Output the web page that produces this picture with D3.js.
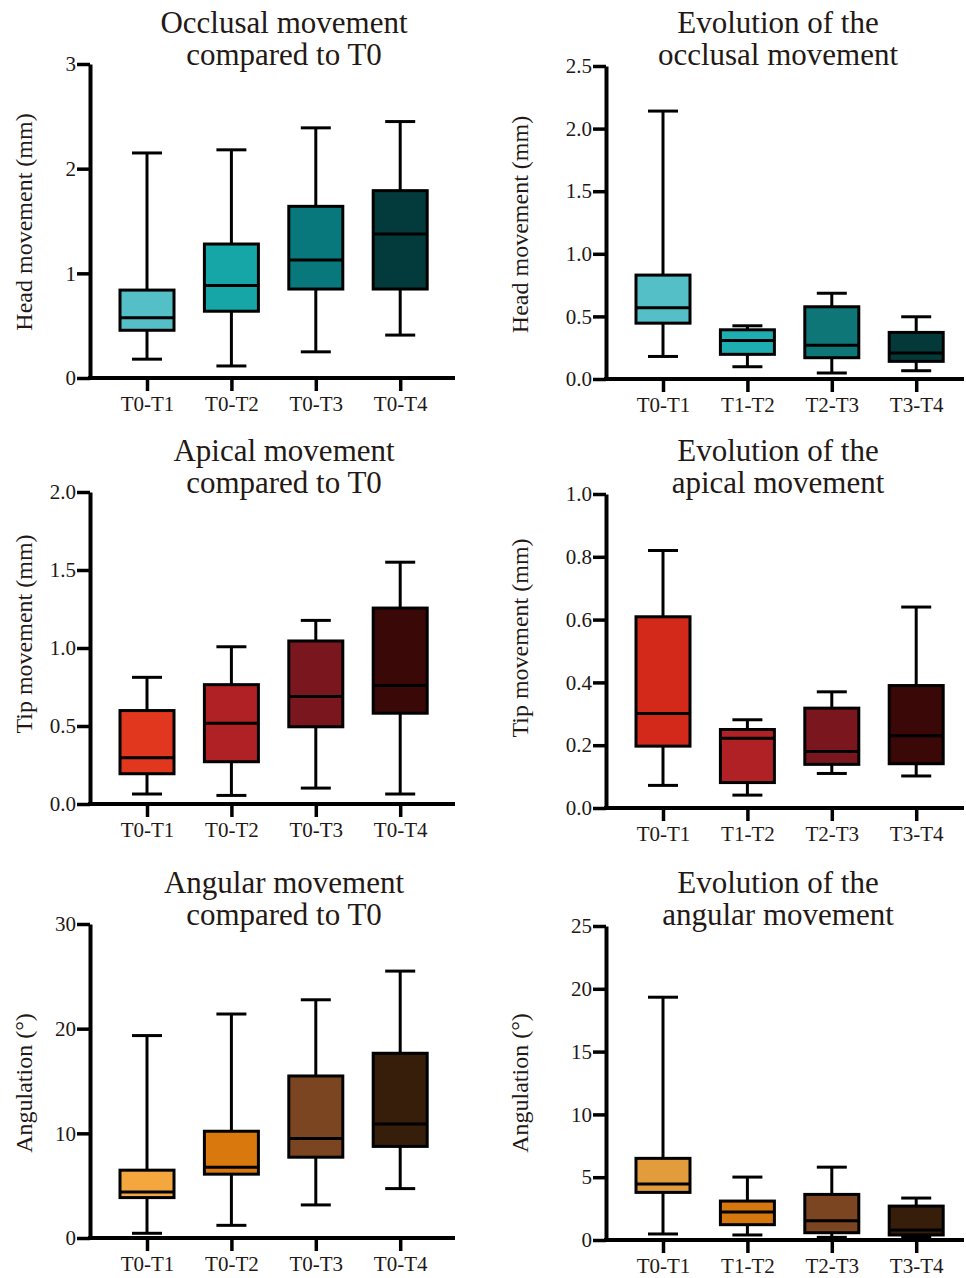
<!DOCTYPE html>
<html><head><meta charset="utf-8">
<script src="https://cdn.jsdelivr.net/npm/d3@7"></script>
<style>body{margin:0;background:#fff} svg{display:block}</style>
</head><body>
<svg id="c" width="966" height="1278"></svg>
<script>
// ---------- DATA ----------
const categoriesCompared = ["T0-T1", "T0-T2", "T0-T3", "T0-T4"];
const categoriesEvolution = ["T0-T1", "T1-T2", "T2-T3", "T3-T4"];

// each entry: [min, q1, median, q3, max]
const occlusalCompared = [
  [0.18, 0.456, 0.575, 0.84, 2.15],
  [0.115, 0.638, 0.884, 1.28, 2.18],
  [0.25, 0.85, 1.127, 1.64, 2.39],
  [0.41, 0.85, 1.375, 1.79, 2.45]
];
const occlusalEvolution = [
  [0.18, 0.446, 0.569, 0.83, 2.14],
  [0.098, 0.197, 0.308, 0.393, 0.425],
  [0.048, 0.17, 0.27, 0.577, 0.685],
  [0.066, 0.141, 0.207, 0.372, 0.497]
];
const apicalCompared = [
  [0.064, 0.194, 0.296, 0.599, 0.812],
  [0.055, 0.271, 0.518, 0.765, 1.008],
  [0.102, 0.495, 0.689, 1.045, 1.177],
  [0.064, 0.582, 0.759, 1.256, 1.55]
];
const apicalEvolution = [
  [0.072, 0.197, 0.301, 0.609, 0.82],
  [0.041, 0.081, 0.222, 0.25, 0.281],
  [0.11, 0.139, 0.18, 0.318, 0.37],
  [0.102, 0.141, 0.23, 0.39, 0.64]
];
const angularCompared = [
  [0.45, 3.86, 4.4, 6.48, 19.34],
  [1.21, 6.1, 6.77, 10.2, 21.4],
  [3.16, 7.72, 9.51, 15.48, 22.76],
  [4.72, 8.75, 10.88, 17.65, 25.5]
];
const angularEvolution = [
  [0.48, 3.79, 4.45, 6.5, 19.33],
  [0.4, 1.22, 2.23, 3.1, 5.01],
  [0.21, 0.58, 1.54, 3.63, 5.8],
  [0.2, 0.4, 0.8, 2.7, 3.34]
];

const ticksOcclusalCompared = [0, 1, 2, 3];
const tickLabelsOcclusalCompared = ["0", "1", "2", "3"];
const ticksOcclusalEvolution = [0, 0.5, 1, 1.5, 2, 2.5];
const tickLabelsOcclusalEvolution = ["0.0", "0.5", "1.0", "1.5", "2.0", "2.5"];
const ticksApicalCompared = [0, 0.5, 1, 1.5, 2];
const tickLabelsApicalCompared = ["0.0", "0.5", "1.0", "1.5", "2.0"];
const ticksApicalEvolution = [0, 0.2, 0.4, 0.6, 0.8, 1.0];
const tickLabelsApicalEvolution = ["0.0", "0.2", "0.4", "0.6", "0.8", "1.0"];
const ticksAngularCompared = [0, 10, 20, 30];
const tickLabelsAngularCompared = ["0", "10", "20", "30"];
const ticksAngularEvolution = [0, 5, 10, 15, 20, 25];
const tickLabelsAngularEvolution = ["0", "5", "10", "15", "20", "25"];

const colorsOcclusal = ["#54bfc7", "#17a6a8", "#08787d", "#033b3d"];
const colorsOcclusalEvo = ["#54bfc7", "#1eadb0", "#0f7677", "#033a39"];
const colorsApical = ["#e1371f", "#b02125", "#7a161e", "#3a0806"];
const colorsApicalEvo = ["#d2291b", "#b02125", "#7a161e", "#3a0806"];
const colorsAngular = ["#f3a73e", "#d9780c", "#7a4520", "#361e0a"];
const colorsAngularEvo = ["#e39c3b", "#d6760e", "#7a4520", "#361e0a"];

// ---------- LAYOUT ----------
const panels = [
  {title: ["Occlusal movement", "compared to T0"], ylabel: "Head movement (mm)",
   cats: categoriesCompared, data: occlusalCompared, colors: colorsOcclusal,
   ticks: ticksOcclusalCompared, tickLabels: tickLabelsOcclusalCompared,
   x0: 90, x1: 455, yTop: 64, yBot: 378, titleX: 284, titleY: 33, labelX: 32, labelShift: 1},
  {title: ["Evolution of the", "occlusal movement"], ylabel: "Head movement (mm)",
   cats: categoriesEvolution, data: occlusalEvolution, colors: colorsOcclusalEvo,
   ticks: ticksOcclusalEvolution, tickLabels: tickLabelsOcclusalEvolution,
   x0: 606, x1: 964, yTop: 66, yBot: 379, titleX: 778, titleY: 33, labelX: 528, labelShift: 2},
  {title: ["Apical movement", "compared to T0"], ylabel: "Tip movement (mm)",
   cats: categoriesCompared, data: apicalCompared, colors: colorsApical,
   ticks: ticksApicalCompared, tickLabels: tickLabelsApicalCompared,
   x0: 90, x1: 455, yTop: 492, yBot: 804, titleX: 284, titleY: 461, labelX: 32, labelShift: -14},
  {title: ["Evolution of the", "apical movement"], ylabel: "Tip movement (mm)",
   cats: categoriesEvolution, data: apicalEvolution, colors: colorsApicalEvo,
   ticks: ticksApicalEvolution, tickLabels: tickLabelsApicalEvolution,
   x0: 606, x1: 964, yTop: 494, yBot: 808, titleX: 778, titleY: 461, labelX: 528, labelShift: -13},
  {title: ["Angular movement", "compared to T0"], ylabel: "Angulation (°)",
   cats: categoriesCompared, data: angularCompared, colors: colorsAngular,
   ticks: ticksAngularCompared, tickLabels: tickLabelsAngularCompared,
   x0: 90, x1: 455, yTop: 924, yBot: 1238, titleX: 284, titleY: 893, labelX: 32, labelShift: 2},
  {title: ["Evolution of the", "angular movement"], ylabel: "Angulation (°)",
   cats: categoriesEvolution, data: angularEvolution, colors: colorsAngularEvo,
   ticks: ticksAngularEvolution, tickLabels: tickLabelsAngularEvolution,
   x0: 606, x1: 964, yTop: 926, yBot: 1240, titleX: 778, titleY: 893, labelX: 528, labelShift: 0}
];

const ink = "#231815";
const font = "'Liberation Serif', 'Times New Roman', serif";
const svg = d3.select("#c");

panels.forEach(p => {
  const g = svg.append("g");
  const dom = [p.ticks[0], p.ticks[p.ticks.length - 1]];
  const y = d3.scaleLinear().domain(dom).range([p.yBot, p.yTop]);
  const x = d3.scalePoint().domain(p.cats).range([p.x0 + 57, p.x0 + 57 + 3 * 84.4]);
  const boxW = 54, capW = 30;

  // boxes
  p.cats.forEach((c, i) => {
    const [mn, q1, md, q3, mx] = p.data[i];
    const cx = x(c);
    const bg = g.append("g").attr("stroke", "#000").attr("stroke-width", 3).attr("fill", "none");
    bg.append("line").attr("x1", cx).attr("x2", cx).attr("y1", y(q3)).attr("y2", y(mx));
    bg.append("line").attr("x1", cx).attr("x2", cx).attr("y1", y(q1)).attr("y2", y(mn));
    bg.append("line").attr("x1", cx - capW / 2).attr("x2", cx + capW / 2).attr("y1", y(mx)).attr("y2", y(mx));
    bg.append("line").attr("x1", cx - capW / 2).attr("x2", cx + capW / 2).attr("y1", y(mn)).attr("y2", y(mn));
    bg.append("rect").attr("x", cx - boxW / 2).attr("width", boxW)
      .attr("y", y(q3)).attr("height", y(q1) - y(q3)).attr("fill", p.colors[i]);
    bg.append("line").attr("x1", cx - boxW / 2).attr("x2", cx + boxW / 2).attr("y1", y(md)).attr("y2", y(md));
  });

  // y axis
  const ya = g.append("g").attr("transform", `translate(${p.x0},0)`)
    .call(d3.axisLeft(y).tickValues(p.ticks).tickFormat((d, i) => p.tickLabels[i]).tickSize(13).tickPadding(1).tickSizeOuter(0));
  ya.select(".domain").attr("stroke", "#000").attr("stroke-width", 4);
  ya.selectAll(".tick line").attr("stroke", "#000").attr("stroke-width", 3.5);
  ya.selectAll("text").attr("font-family", font).attr("font-size", 21).attr("fill", ink);

  // x axis
  const xa = g.append("g").attr("transform", `translate(0,${p.yBot})`)
    .call(d3.axisBottom(x).tickSize(13).tickPadding(5).tickSizeOuter(0));
  xa.select(".domain").attr("d", `M${p.x0 - 2},0H${p.x1}`).attr("stroke", "#000").attr("stroke-width", 4);
  xa.selectAll(".tick line").attr("stroke", "#000").attr("stroke-width", 3.5);
  xa.selectAll("text").attr("font-family", font).attr("font-size", 21).attr("fill", ink);

  // title
  const t = g.append("text").attr("text-anchor", "middle").attr("font-family", font)
    .attr("font-size", 31).attr("fill", ink);
  p.title.forEach((line, i) => {
    t.append("tspan").attr("x", p.titleX).attr("y", p.titleY + i * 32).text(line);
  });

  // y label
  const cy = (p.yTop + p.yBot) / 2 + p.labelShift;
  g.append("text").attr("transform", `translate(${p.labelX},${cy}) rotate(-90)`)
    .attr("text-anchor", "middle").attr("font-family", font).attr("font-size", 24)
    .attr("fill", ink).text(p.ylabel);
});
</script>
</body></html>
